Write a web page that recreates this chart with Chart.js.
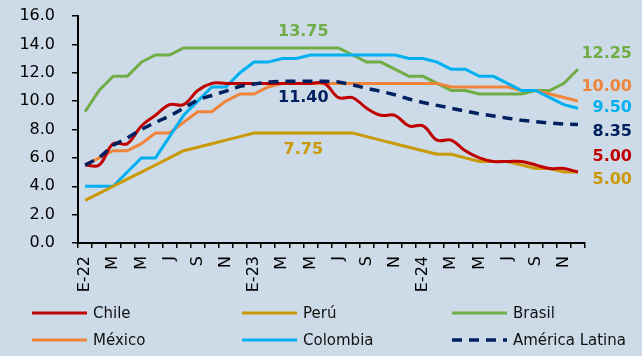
<!DOCTYPE html>
<html>
<head>
<meta charset="utf-8">
<script src="https://cdn.jsdelivr.net/npm/chart.js@4.4.1/dist/chart.umd.min.js"></script>
<style>
  html, body { margin: 0; padding: 0; background: #cddbe8; }
</style>
</head>
<body>
<canvas id="tasas" width="642" height="356"></canvas>
<script>
// meses ene-22 .. dic-24
const meses = [
  'ene-22','feb-22','mar-22','abr-22','may-22','jun-22','jul-22','ago-22','sep-22','oct-22','nov-22','dic-22',
  'ene-23','feb-23','mar-23','abr-23','may-23','jun-23','jul-23','ago-23','sep-23','oct-23','nov-23','dic-23',
  'ene-24','feb-24','mar-24','abr-24','may-24','jun-24','jul-24','ago-24','sep-24','oct-24','nov-24','dic-24'
];
const etiquetas = [
  'E-22','','M','','M','','J','','S','','N','',
  'E-23','','M','','M','','J','','S','','N','',
  'E-24','','M','','M','','J','','S','','N',''
];

const chile = [5.5,5.5,7,7,8.25,9,9.75,9.75,10.75,11.25,11.25,11.25,
  11.25,11.25,11.25,11.25,11.25,11.25,10.25,10.25,9.5,9,9,8.25,
  8.25,7.25,7.25,6.5,6,5.75,5.75,5.75,5.5,5.25,5.25,5];
const peru = [3,3.5,4,4.5,5,5.5,6,6.5,6.75,7,7.25,7.5,
  7.75,7.75,7.75,7.75,7.75,7.75,7.75,7.75,7.5,7.25,7,6.75,
  6.5,6.25,6.25,6,5.75,5.75,5.75,5.5,5.25,5.25,5,5];
const brasil = [9.25,10.75,11.75,11.75,12.75,13.25,13.25,13.75,13.75,13.75,13.75,13.75,
  13.75,13.75,13.75,13.75,13.75,13.75,13.75,13.25,12.75,12.75,12.25,11.75,
  11.75,11.25,10.75,10.75,10.5,10.5,10.5,10.5,10.75,10.75,11.25,12.25];
const mexico = [5.5,6,6.5,6.5,7,7.75,7.75,8.5,9.25,9.25,10,10.5,
  10.5,11,11.25,11.25,11.25,11.25,11.25,11.25,11.25,11.25,11.25,11.25,
  11.25,11.25,11,11,11,11,11,10.75,10.75,10.5,10.25,10];
const colombia = [4,4,4,5,6,6,7.5,9,10,11,11,12,
  12.75,12.75,13,13,13.25,13.25,13.25,13.25,13.25,13.25,13.25,13,
  13,12.75,12.25,12.25,11.75,11.75,11.25,10.75,10.75,10.25,9.75,9.5];
const latam = [5.5,6,6.9,7.4,8,8.5,8.95,9.5,10.1,10.4,10.7,11.05,
  11.2,11.35,11.4,11.4,11.4,11.4,11.35,11.15,10.9,10.7,10.45,10.15,
  9.9,9.7,9.5,9.3,9.1,8.95,8.8,8.65,8.55,8.45,8.38,8.35];

const rojo = '#c00000', oro = '#c99a06', verde = '#70ad47',
      naranja = '#f0843a', celeste = '#00b0f0', azul = '#002060';
const fuente = 'DejaVu Sans';

// textos sobre el grafico (posicion en indice de mes y valor del eje)
const notas = [
  { texto: '13.75', color: verde, i: 15.5, v: 14.87 },
  { texto: '11.40', color: azul,  i: 15.5, v: 10.22 },
  { texto: '7.75',  color: oro,   i: 15.5, v: 6.55 },
];
const finales = [
  { texto: '12.25', color: verde,   v: 13.32 },
  { texto: '10.00', color: naranja, v: 10.99 },
  { texto: '9.50',  color: celeste, v: 9.51 },
  { texto: '8.35',  color: azul,    v: 7.82 },
  { texto: '5.00',  color: rojo,    v: 6.06 },
  { texto: '5.00',  color: oro,     v: 4.44 },
];

const fondo = {
  id: 'fondo',
  beforeDraw(chart) {
    const ctx = chart.ctx;
    ctx.save();
    ctx.fillStyle = '#cddbe8';
    ctx.fillRect(0, 0, chart.width, chart.height);
    ctx.restore();
  }
};

const textos = {
  id: 'textos',
  afterDraw(chart) {
    const ctx = chart.ctx, x = chart.scales.x, y = chart.scales.y;
    ctx.save();
    ctx.font = 'bold 16px "' + fuente + '"';
    ctx.textBaseline = 'middle';
    ctx.textAlign = 'center';
    notas.forEach(n => {
      ctx.fillStyle = n.color;
      ctx.fillText(n.texto, x.getPixelForValue(n.i), y.getPixelForValue(n.v));
    });
    ctx.textAlign = 'right';
    finales.forEach(n => {
      ctx.fillStyle = n.color;
      ctx.fillText(n.texto, chart.chartArea.right + 47, y.getPixelForValue(n.v));
    });
    ctx.restore();
  }
};

// leyenda en 3 columnas
const leyenda = {
  id: 'leyenda',
  afterDraw(chart) {
    const ctx = chart.ctx;
    const cols = [32, 242, 452], filas = [313, 340];
    ctx.save();
    ctx.font = '15px "' + fuente + '"';
    ctx.textBaseline = 'middle';
    ctx.textAlign = 'left';
    chart.data.datasets.forEach((ds, n) => {
      const cx = cols[n % 3], cy = filas[Math.floor(n / 3)];
      ctx.strokeStyle = ds.borderColor;
      ctx.lineWidth = ds.borderWidth;
      ctx.setLineDash(ds.borderDash || []);
      ctx.beginPath();
      ctx.moveTo(cx, cy);
      ctx.lineTo(cx + 55, cy);
      ctx.stroke();
      ctx.fillStyle = '#111';
      ctx.fillText(ds.label, cx + 61, cy + 1);
    });
    ctx.restore();
  }
};

function serie(label, data, color, extra) {
  return Object.assign({
    label, data,
    borderColor: color,
    backgroundColor: color,
    borderWidth: 3,
    pointRadius: 0,
    tension: 0,
    fill: false
  }, extra || {});
}

const ejeGrid = { display: true, drawOnChartArea: false, drawTicks: true, color: '#000', lineWidth: 1.5 };

new Chart(document.getElementById('tasas'), {
  type: 'line',
  data: {
    labels: meses,
    datasets: [
      serie('Chile', chile, rojo, { tension: 0.4, order: 1 }),
      serie('Perú', peru, oro, { order: 2 }),
      serie('Brasil', brasil, verde, { order: 5 }),
      serie('México', mexico, naranja, { order: 4 }),
      serie('Colombia', colombia, celeste, { order: 3 }),
      serie('América Latina', latam, azul, { borderDash: [10, 7], borderWidth: 3.5, order: 0 })
    ]
  },
  options: {
    responsive: false,
    animation: false,
    devicePixelRatio: 1,
    layout: { padding: { left: 0, right: 57, top: 16, bottom: 54 } },
    plugins: {
      legend: { display: false },
      tooltip: { enabled: false }
    },
    scales: {
      x: {
        offset: true,
        grid: Object.assign({ offset: true, tickLength: 5 }, ejeGrid),
        border: { display: true, color: '#000', width: 2 },
        ticks: {
          autoSkip: false,
          minRotation: 90,
          maxRotation: 90,
          padding: 8,
          color: '#000',
          font: { family: fuente, size: 16 },
          callback: (v, i) => etiquetas[i]
        },
        afterFit: s => { s.height = 59; }
      },
      y: {
        min: 0,
        max: 16,
        grid: Object.assign({ tickLength: 6 }, ejeGrid),
        border: { display: true, color: '#000', width: 2 },
        ticks: {
          stepSize: 2,
          padding: 17,
          color: '#000',
          font: { family: fuente, size: 16 },
          callback: v => v.toFixed(1)
        },
        afterFit: s => { s.width = 78; s.paddingTop = 0; s.paddingBottom = 0; }
      }
    }
  },
  plugins: [fondo, textos, leyenda]
});
</script>
</body>
</html>
